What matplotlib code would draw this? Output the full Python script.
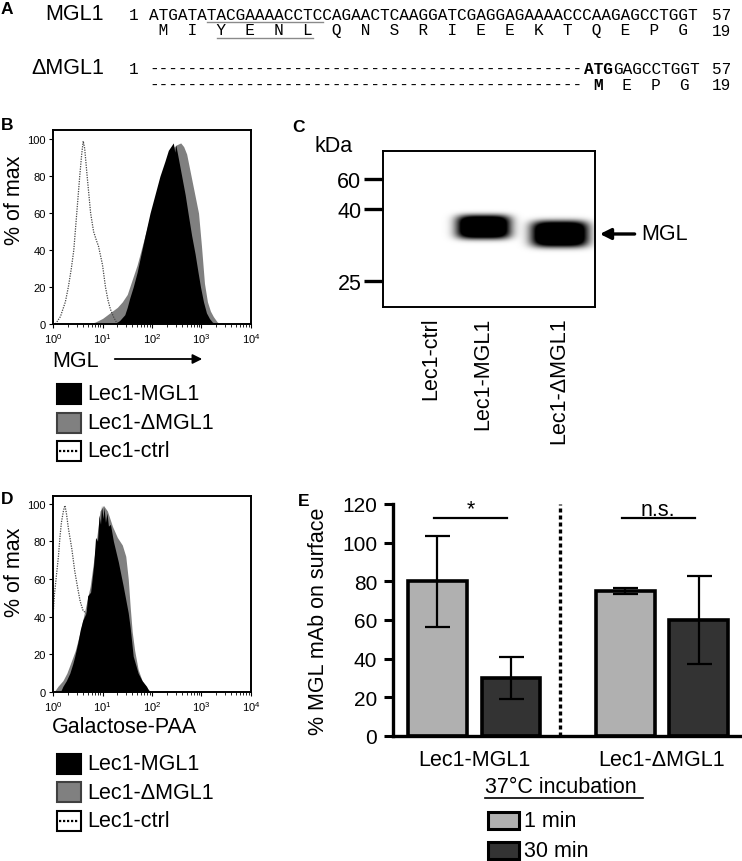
import numpy as np
import matplotlib
matplotlib.use("Agg")
import matplotlib.pyplot as plt
from matplotlib.patches import Rectangle

plt.rcParams['font.family'] = ['Liberation Sans', 'DejaVu Sans']
plt.rcParams['axes.linewidth'] = 1.4

W, H = 742, 862

# ---------------- data ----------------
# A: nucleotide / amino acid sequences
mgl1_nt = "ATGATATACGAAAACCTCCAGAACTCAAGGATCGAGGAGAAAACCCAAGAGCCTGGT"
mgl1_aa = "MIYENLQNSRIEEKTQEPG"
new_start_codon = 16          # ATG replaces codon 16 in dMGL1
new_start = ("ATG", "M")
motif_codons = (3, 6)         # YENL motif (underlined)

# B: MGL staining, log10 fluorescence vs % of max
b_mgl1_x = [1.25, 1.35, 1.45, 1.5, 1.55, 1.62, 1.7, 1.78, 1.86, 1.96, 2.06, 2.16, 2.26, 2.33, 2.38,
            2.43, 2.46, 2.48, 2.53, 2.6, 2.67, 2.74, 2.8, 2.87, 2.93, 2.98, 3.04, 3.1, 3.16, 3.22, 3.3]
b_mgl1_y = [0, 2, 5, 9, 14, 20, 28, 38, 48, 60, 70, 80, 88, 94, 96,
            98, 93, 97, 90, 80, 70, 58, 48, 38, 28, 20, 12, 6, 3, 1, 0]
b_dmgl1_x = [0.7, 0.85, 1.0, 1.1, 1.2, 1.3, 1.4, 1.5, 1.6, 1.7, 1.8, 1.9, 2.0, 2.1, 2.2, 2.3,
             2.4, 2.5, 2.58, 2.64, 2.7, 2.76, 2.82, 2.88, 2.94, 3.0, 3.06, 3.12, 3.18, 3.24, 3.32, 3.4]
b_dmgl1_y = [0, 1, 3, 5, 7, 9, 12, 16, 24, 32, 42, 52, 62, 72, 81, 89,
             95, 97, 98, 96, 92, 84, 76, 68, 60, 42, 22, 12, 7, 4, 1, 0]
b_ctrl_x = [0.05, 0.15, 0.25, 0.31, 0.37, 0.42, 0.48, 0.54, 0.58, 0.61, 0.64, 0.69, 0.76, 0.82,
            0.88, 0.92, 1.0, 1.06, 1.11, 1.16, 1.22, 1.28, 1.35]
b_ctrl_y = [0, 4, 12, 20, 30, 40, 60, 80, 92, 99, 95, 80, 60, 50, 45, 42, 32, 20, 13, 8, 4, 1, 0]

# D: Galactose-PAA binding
d_mgl1_x = [0.15, 0.2, 0.27, 0.34, 0.4, 0.44, 0.5, 0.55, 0.6, 0.67, 0.7, 0.76, 0.82, 0.86, 0.9,
            0.93, 0.96, 0.98, 1.01, 1.03, 1.06, 1.09, 1.12, 1.16, 1.22, 1.32, 1.42, 1.52, 1.56,
            1.62, 1.72, 1.8, 1.89, 1.95]
d_mgl1_y = [0, 3, 6, 10, 15, 19, 26, 33, 38, 42, 51, 53, 67, 82, 80,
            94, 89, 99, 92, 98, 90, 95, 88, 89, 80, 69, 56, 42, 34,
            19, 10, 6, 3, 0]
d_dmgl1_x = [0.02, 0.1, 0.2, 0.28, 0.38, 0.45, 0.55, 0.65, 0.75, 0.85, 0.95, 1.02, 1.1, 1.2,
             1.3, 1.4, 1.47, 1.52, 1.56, 1.6, 1.65, 1.72, 1.8, 1.9, 1.98]
d_dmgl1_y = [0, 3, 6, 10, 17, 22, 32, 44, 56, 75, 96, 99, 96, 88, 82, 78, 72, 60, 45, 32, 22,
             12, 6, 2, 0]
d_ctrl_x = [0.0, 0.03, 0.07, 0.11, 0.14, 0.17, 0.21, 0.24, 0.27, 0.31, 0.38, 0.44, 0.5, 0.55,
            0.61, 0.67, 0.75, 0.85, 0.95, 1.05, 1.15]
d_ctrl_y = [40, 52, 62, 72, 82, 90, 96, 99, 95, 87, 76, 64, 55, 48, 43, 42, 38, 30, 20, 10, 0]

hist_labels = ["Lec1-MGL1", "Lec1-\u0394MGL1", "Lec1-ctrl"]

# C: western blot
lanes = ["Lec1-ctrl", "Lec1-MGL1", "Lec1-\u0394MGL1"]
lane_pos = [0.226, 0.472, 0.83]
marker_kda = [60, 40, 25]
marker_rf = [0.18, 0.372, 0.833]
band_lane = [1, 2]
band_rf = [0.487, 0.532]
band_w = [0.25, 0.265]
band_h = [0.15, 0.165]

# E: surface MGL after 37 C incubation
cell_lines = ["Lec1-MGL1", "Lec1-\u0394MGL1"]
times = ["1 min", "30 min"]
surf_1min = [80, 75]
surf_30min = [30, 60]
err_1min = [23.5, 1.7]
err_30min = [11, 23]
sig_text = ["*", "n.s."]
sig_y = 113

light, dark = '#b0b0b0', '#333333'
FS = 15.5

fig = plt.figure(figsize=(W / 100, H / 100), dpi=100)


def px_axes(x0, y0, x1, y1):
    return fig.add_axes([x0 / W, 1 - y1 / H, (x1 - x0) / W, (y1 - y0) / H])


# ---------------- B and D histograms ----------------
def hist_panel(rect, ymax, mgl, dmgl, ctrl):
    ax = px_axes(*rect)
    ax.set_xscale('log')
    ax.fill_between(10 ** np.array(dmgl[0]), dmgl[1], color='#808080', lw=0, zorder=1)
    ax.plot(10 ** np.array(ctrl[0]), ctrl[1], ls=(0, (1, 1)), color='#444444', lw=0.9, zorder=2)
    ax.fill_between(10 ** np.array(mgl[0]), mgl[1], color='black', lw=0, zorder=3)
    ax.set_xlim(1, 1e4)
    ax.set_ylim(0, ymax)
    ax.set_yticks(range(0, 101, 20))
    ax.set_xticks([1, 10, 100, 1000, 10000])
    ax.tick_params(labelsize=8, length=3, width=0.8, pad=2)
    ax.tick_params(which='minor', length=2, width=0.6)
    return ax


hist_panel((53, 131, 251, 325), 105, (b_mgl1_x, b_mgl1_y), (b_dmgl1_x, b_dmgl1_y), (b_ctrl_x, b_ctrl_y))
hist_panel((53, 497, 251, 693), 104, (d_mgl1_x, d_mgl1_y), (d_dmgl1_x, d_dmgl1_y), (d_ctrl_x, d_ctrl_y))

# ---------------- C western blot ----------------
axc = px_axes(383, 152, 595, 308)
X, Y = np.meshgrid((np.arange(400) + 0.5) / 400, (np.arange(240) + 0.5) / 240)
img = np.zeros_like(X)
for ln, rf, bw, bh in zip(band_lane, band_rf, band_w, band_h):
    dx = (X - lane_pos[ln]) / (bw / 2)
    dy = (Y - rf) / (bh / 2)
    img += 1.7 * np.exp(-(dx ** 4 + dy ** 4))
axc.imshow(np.clip(img, 0, 1), cmap='gray_r', vmin=0, vmax=1, extent=(0, 1, 1, 0),
           aspect='auto', interpolation='bilinear')
axc.set_xlim(0, 1)
axc.set_ylim(1, 0)
axc.set_yticks(marker_rf, labels=[str(k) for k in marker_kda])
axc.tick_params(axis='y', length=13.5, width=2.4, pad=2, labelsize=FS)
axc.set_xticks(lane_pos, labels=lanes, rotation=90)
axc.tick_params(axis='x', length=0, pad=7, labelsize=FS)
axc.annotate('', xy=(1.01, band_rf[-1]), xytext=(1.2, band_rf[-1]),
             xycoords=('axes fraction', 'data'), textcoords=('axes fraction', 'data'),
             arrowprops=dict(arrowstyle='-|>', lw=2.4, color='k', mutation_scale=16))
axc.text(1.22, band_rf[-1], "MGL", transform=axc.get_yaxis_transform(), va='center', fontsize=FS)

# ---------------- E bar chart ----------------
axe = px_axes(393, 505, 742, 737)
group_x = np.array([0.5, 3.055])
bar_kw = dict(width=0.8, edgecolor='black', linewidth=2.6, capsize=9,
              error_kw=dict(elinewidth=1.6, capthick=1.6, ecolor='black'))
axe.bar(group_x - 0.5, surf_1min, yerr=err_1min, color=light, **bar_kw)
axe.bar(group_x + 0.5, surf_30min, yerr=err_30min, color=dark, **bar_kw)
axe.axvline(1.67, color='black', lw=2.4, ls=(0, (1.2, 0.9)))
for gx, txt in zip(group_x, sig_text):
    axe.plot([gx - 0.55, gx + 0.45], [sig_y, sig_y], color='black', lw=1.6)
    axe.text(gx - 0.05, sig_y + 1.5, txt, ha='center', va='baseline', fontsize=FS)
axe.set_xlim(-0.605, 4.143)
axe.set_ylim(0, 120)
axe.set_yticks(range(0, 121, 20))
axe.set_xticks(group_x, labels=cell_lines)
axe.tick_params(axis='y', labelsize=15, length=6.5, width=2.2, pad=5)
axe.tick_params(axis='x', labelsize=FS, length=0, pad=9)
for s in ('top', 'right'):
    axe.spines[s].set_visible(False)
for s in ('left', 'bottom'):
    axe.spines[s].set_linewidth(2.4)

# ---------------- overlay text (pixel coords) ----------------
ov = fig.add_axes([0, 0, 1, 1])
ov.set_xlim(0, W)
ov.set_ylim(H, 0)
ov.axis('off')

for lab, x, y in [("A", 1, 10), ("B", 1, 126), ("C", 292, 128), ("D", 1, 500), ("E", 298, 502)]:
    ov.text(x, y, lab, fontsize=12.5, fontweight='bold', va='center')

# panel A sequences
x0, cw = 149, (700 - 149) / 57
mono = dict(family='Liberation Mono', fontsize=cw / 0.6 * 0.72, va='center')
rows_y = [15, 31, 69, 85]
aa_row = ''.join(' ' + a + ' ' for a in mgl1_aa)
k = 3 * (new_start_codon - 1)
ov.text(104, rows_y[0], "MGL1", fontsize=15.5, ha='right', va='center')
ov.text(104, rows_y[2], "\u0394MGL1", fontsize=15.5, ha='right', va='center')
for y in (rows_y[0], rows_y[2]):
    ov.text(138, y, "1", ha='right', **mono)
    ov.text(712, y, str(len(mgl1_nt)), **mono)
ov.text(712, rows_y[1], str(len(mgl1_aa)), **mono)
ov.text(712, rows_y[3], str(len(mgl1_aa)), **mono)
ov.text(x0, rows_y[0], mgl1_nt, **mono)
ov.text(x0, rows_y[1], aa_row, **mono)
ov.text(x0, rows_y[2], '-' * k, **mono)
ov.text(x0 + k * cw, rows_y[2], new_start[0], fontweight='bold', **mono)
ov.text(x0 + (k + 3) * cw, rows_y[2], mgl1_nt[k + 3:], **mono)
ov.text(x0, rows_y[3], '-' * k, **mono)
ov.text(x0 + (k + 1) * cw, rows_y[3], new_start[1], fontweight='bold', **mono)
ov.text(x0 + (k + 2) * cw, rows_y[3], aa_row[k + 2:], **mono)
u0, u1 = x0 + 3 * (motif_codons[0] - 1) * cw, x0 + 3 * motif_codons[1] * cw
ov.plot([u0, u1], [rows_y[0] + 8, rows_y[0] + 8], color='#8a8a8a', lw=1)
ov.plot([u0 + cw, u1 - cw], [rows_y[1] + 8, rows_y[1] + 8], color='#8a8a8a', lw=1)

# B / D axis labels and legends
ov.text(15, 200, "% of max", rotation=90, ha='center', va='center', fontsize=FS)
ov.text(15, 572, "% of max", rotation=90, ha='center', va='center', fontsize=FS)
ov.text(52, 362, "MGL", va='center', fontsize=FS)
ov.annotate('', xy=(205, 360), xytext=(112, 360),
            arrowprops=dict(arrowstyle='-|>', lw=1.3, color='k', mutation_scale=14))
ov.text(52, 728, "Galactose-PAA", va='center', fontsize=FS)

for ytop in (395, 765):
    styles = [('black', 'black'), ('#808080', '#404040'), ('white', 'black')]
    for i, (lab, (fc, ec)) in enumerate(zip(hist_labels, styles)):
        yc = ytop + i * 28.5
        ov.add_patch(Rectangle((57, yc - 10), 24, 20, fc=fc, ec=ec, lw=1.5))
        if i == 2:
            ov.plot([59, 79], [yc, yc], color='black', lw=1.6, ls=(0, (1, 0.8)))
        ov.text(87, yc, lab, va='center', fontsize=FS)

ov.text(315, 147, "kDa", va='center', fontsize=FS)

# E labels and legend
ov.text(318, 621, "% MGL mAb on surface", rotation=90, ha='center', va='center', fontsize=FS)
ov.text(485, 788, "37\u00b0C incubation", va='center', fontsize=FS)
ov.plot([485, 643], [799, 799], color='black', lw=1.2)
for i, (lab, c) in enumerate(zip(times, [light, dark])):
    yc = 822 + 30 * i
    ov.add_patch(Rectangle((488, yc - 8.5), 31, 17, fc=c, ec='black', lw=2.2))
    ov.text(524, yc, lab, va='center', fontsize=FS)

fig.savefig('out.png', dpi=100)
